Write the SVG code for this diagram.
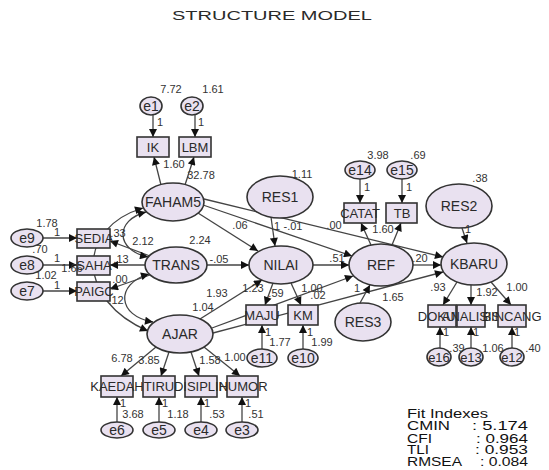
<svg xmlns="http://www.w3.org/2000/svg" width="549" height="470" viewBox="0 0 549 470">
<style>
.lat{fill:#e9e1f0;stroke:#333;stroke-width:1.6}
.obs{fill:#e9e1f0;stroke:#333;stroke-width:1.6}
.c{fill:none;stroke:#444;stroke-width:1.3;marker-end:url(#ah)}
.d{fill:none;stroke:#444;stroke-width:1.3;marker-start:url(#ah);marker-end:url(#ah)}
text{font-family:"Liberation Sans",Arial,sans-serif;fill:#2a2a2a}
.ln{font-size:14px;text-anchor:middle}
.ls{font-size:13px;text-anchor:middle}
.bn{font-size:13px;text-anchor:middle}
.n{font-size:11px;text-anchor:middle;fill:#333}
.f{font-size:13px;fill:#111}
</style>
<defs>
<marker id="ah" viewBox="0 0 10 10" refX="10" refY="5" markerWidth="10" markerHeight="8" markerUnits="userSpaceOnUse" orient="auto-start-reverse">
<path d="M0,0 L10,5 L0,10 z" fill="#111"/>
</marker>
</defs>
<rect width="549" height="470" fill="#fff"/>
<text x="272" y="20" font-size="13" text-anchor="middle" textLength="200" lengthAdjust="spacingAndGlyphs" fill="#333" style="font-family:'Liberation Sans',Arial,sans-serif">STRUCTURE MODEL</text>

<g id="connectors">
<path class="c" d="M153,115 L153,137"/>
<path class="c" d="M195,115 L195,137"/>
<path class="c" d="M161,185 L154,157"/>
<path class="c" d="M185,185 L194,157"/>
<path class="c" d="M360,179 L360,203"/>
<path class="c" d="M402,179 L402,203"/>
<path class="c" d="M371,245 L361,223"/>
<path class="c" d="M392,245 L401,223"/>
<path class="c" d="M43,238 L77,238"/>
<path class="c" d="M43,265 L77,265"/>
<path class="c" d="M43,291 L77,291"/>
<path class="c" d="M150,256 L110,241"/>
<path class="c" d="M145,265 L110,265"/>
<path class="c" d="M150,275 L110,289"/>
<path class="d" d="M146,212 C115,220 115,250 148,257"/>
<path class="d" d="M149,274 C115,284 117,316 153,322"/>
<path class="d" d="M143,208 C76,228 76,300 148,331"/>
<path class="c" d="M198,213 L258,251"/>
<path class="c" d="M203,205 L352,256"/>
<path class="c" d="M204,199 L443,257"/>
<path class="c" d="M207,265 L249,265"/>
<path class="c" d="M271,217 L275,246"/>
<path class="c" d="M200,319 L262,280"/>
<path class="c" d="M212,328 L353,276"/>
<path class="c" d="M213,333 L443,272"/>
<path class="c" d="M313,265 L349,265"/>
<path class="c" d="M413,265 L441,265"/>
<path class="c" d="M462,228 L467,243"/>
<path class="c" d="M360,303 L370,285"/>
<path class="c" d="M273,283 L265,305"/>
<path class="c" d="M291,283 L301,305"/>
<path class="c" d="M262,349 L262,325"/>
<path class="c" d="M303,349 L303,325"/>
<path class="c" d="M156,347 L121,376"/>
<path class="c" d="M169,352 L161,376"/>
<path class="c" d="M191,352 L199,376"/>
<path class="c" d="M204,347 L240,376"/>
<path class="c" d="M117,422 L117,397"/>
<path class="c" d="M159,422 L159,397"/>
<path class="c" d="M201,422 L201,397"/>
<path class="c" d="M242,422 L242,397"/>
<path class="c" d="M457,282 L443,305"/>
<path class="c" d="M471,285 L471,305"/>
<path class="c" d="M491,282 L511,305"/>
<path class="c" d="M440,348 L440,327"/>
<path class="c" d="M471,348 L471,327"/>
<path class="c" d="M512,348 L512,327"/>
</g>

<g id="e1"><ellipse class="lat" cx="151" cy="106" rx="11" ry="9"/><text class="ln" x="151" y="111">e1</text></g>
<g id="e2"><ellipse class="lat" cx="192" cy="106" rx="11" ry="9"/><text class="ln" x="192" y="111">e2</text></g>
<g id="IK"><rect class="obs" x="137" y="137" width="32" height="20"/><text class="bn" x="153" y="152">IK</text></g>
<g id="LBM"><rect class="obs" x="179" y="137" width="32" height="20"/><text class="bn" x="195" y="152">LBM</text></g>
<g id="FAHAM5"><ellipse class="lat" cx="173" cy="202" rx="31" ry="19"/><text class="ln" x="173" y="207">FAHAM5</text></g>
<g id="RES1"><ellipse class="lat" cx="280" cy="197" rx="33" ry="21"/><text class="ln" x="280" y="202">RES1</text></g>
<g id="TRANS"><ellipse class="lat" cx="176" cy="265" rx="31" ry="18"/><text class="ln" x="176" y="270">TRANS</text></g>
<g id="NILAI"><ellipse class="lat" cx="281" cy="265" rx="32" ry="19"/><text class="ln" x="281" y="270">NILAI</text></g>
<g id="AJAR"><ellipse class="lat" cx="180" cy="334" rx="33" ry="19"/><text class="ln" x="180" y="339">AJAR</text></g>
<g id="REF"><ellipse class="lat" cx="381" cy="265" rx="32" ry="21"/><text class="ln" x="381" y="270">REF</text></g>
<g id="KBARU"><ellipse class="lat" cx="474" cy="264" rx="33" ry="21"/><text class="ln" x="474" y="269">KBARU</text></g>
<g id="RES2"><ellipse class="lat" cx="459" cy="206" rx="33" ry="22"/><text class="ln" x="459" y="211">RES2</text></g>
<g id="RES3"><ellipse class="lat" cx="363" cy="322" rx="28" ry="19"/><text class="ln" x="363" y="327">RES3</text></g>
<g id="e14"><ellipse class="lat" cx="360" cy="170" rx="15" ry="9"/><text class="ln" x="360" y="175">e14</text></g>
<g id="e15"><ellipse class="lat" cx="402" cy="170" rx="15" ry="9"/><text class="ln" x="402" y="175">e15</text></g>
<g id="CATAT"><rect class="obs" x="344" y="203" width="32" height="20"/><text class="bn" x="360" y="218">CATAT</text></g>
<g id="TB"><rect class="obs" x="386" y="203" width="31" height="20"/><text class="bn" x="402" y="218">TB</text></g>
<g id="e9"><ellipse class="lat" cx="27" cy="238" rx="16" ry="9"/><text class="ln" x="27" y="243">e9</text></g>
<g id="e8"><ellipse class="lat" cx="27" cy="265" rx="16" ry="9"/><text class="ln" x="27" y="270">e8</text></g>
<g id="e7"><ellipse class="lat" cx="27" cy="291" rx="16" ry="9"/><text class="ln" x="27" y="296">e7</text></g>
<g id="SEDIA"><rect class="obs" x="77" y="229" width="33" height="19"/><text class="bn" x="94" y="243">SEDIA</text></g>
<g id="SAHA"><rect class="obs" x="77" y="256" width="33" height="19"/><text class="bn" x="94" y="270">SAHA</text></g>
<g id="PAIGC"><rect class="obs" x="77" y="282" width="33" height="19"/><text class="bn" x="94" y="296">PAIGC</text></g>
<g id="MAJU"><rect class="obs" x="246" y="305" width="31" height="20"/><text class="bn" x="262" y="320">MAJU</text></g>
<g id="KM"><rect class="obs" x="288" y="305" width="30" height="20"/><text class="bn" x="303" y="320">KM</text></g>
<g id="e11"><ellipse class="lat" cx="262" cy="358" rx="15" ry="9"/><text class="ln" x="262" y="363">e11</text></g>
<g id="e10"><ellipse class="lat" cx="303" cy="358" rx="15" ry="9"/><text class="ln" x="303" y="363">e10</text></g>
<g id="KAEDAH"><rect class="obs" x="101" y="376" width="32" height="21"/><text class="bn" x="117" y="391">KAEDAH</text></g>
<g id="TIRU"><rect class="obs" x="143" y="376" width="32" height="21"/><text class="bn" x="159" y="391">TIRU</text></g>
<g id="DISIPLIN"><rect class="obs" x="185" y="376" width="32" height="21"/><text class="bn" x="201" y="391">DISIPLIN</text></g>
<g id="HUMOR"><rect class="obs" x="227" y="376" width="31" height="21"/><text class="bn" x="243" y="391">HUMOR</text></g>
<g id="e6"><ellipse class="lat" cx="117" cy="430" rx="16" ry="8"/><text class="ln" x="117" y="435">e6</text></g>
<g id="e5"><ellipse class="lat" cx="159" cy="430" rx="16" ry="8"/><text class="ln" x="159" y="435">e5</text></g>
<g id="e4"><ellipse class="lat" cx="201" cy="430" rx="16" ry="8"/><text class="ln" x="201" y="435">e4</text></g>
<g id="e3"><ellipse class="lat" cx="242" cy="430" rx="16" ry="8"/><text class="ln" x="242" y="435">e3</text></g>
<g id="DOKUM"><rect class="obs" x="428" y="305" width="28" height="22"/><text class="bn" x="442" y="321">DOKUM</text></g>
<g id="ANALISIS"><rect class="obs" x="457" y="305" width="28" height="22"/><text class="bn" x="471" y="321">ANALISIS</text></g>
<g id="BINCANG"><rect class="obs" x="498" y="305" width="28" height="22"/><text class="bn" x="512" y="321">BINCANG</text></g>
<g id="e16"><ellipse class="lat" cx="439" cy="357" rx="12" ry="9"/><text class="ls" x="439" y="361.5">e16</text></g>
<g id="e13"><ellipse class="lat" cx="471" cy="357" rx="12" ry="9"/><text class="ls" x="471" y="361.5">e13</text></g>
<g id="e12"><ellipse class="lat" cx="512" cy="357" rx="12" ry="9"/><text class="ls" x="512" y="361.5">e12</text></g>

<g id="estimates">
<text class="n" x="171" y="93">7.72</text>
<text class="n" x="213" y="93">1.61</text>
<text class="n" x="160" y="126">1</text>
<text class="n" x="201" y="126">1</text>
<text class="n" x="174" y="168">1.60</text>
<text class="n" x="201" y="179">32.78</text>
<text class="n" x="302" y="178">1.11</text>
<text class="n" x="378" y="159">3.98</text>
<text class="n" x="418" y="159">.69</text>
<text class="n" x="367" y="191">1</text>
<text class="n" x="409" y="191">1</text>
<text class="n" x="480" y="182">.38</text>
<text class="n" x="383" y="233">1.60</text>
<text class="n" x="334" y="229">.00</text>
<text class="n" x="240" y="229">.06</text>
<text class="n" x="277" y="230">1</text>
<text class="n" x="293" y="230">-.01</text>
<text class="n" x="200" y="244">2.24</text>
<text class="n" x="143" y="245">2.12</text>
<text class="n" x="47" y="227">1.78</text>
<text class="n" x="57" y="236">1</text>
<text class="n" x="118" y="237">.33</text>
<text class="n" x="40" y="253">.70</text>
<text class="n" x="57" y="262">1</text>
<text class="n" x="121" y="263">.13</text>
<text class="n" x="72" y="272">1.66</text>
<text class="n" x="46" y="279">1.02</text>
<text class="n" x="57" y="289">1</text>
<text class="n" x="120" y="283">.00</text>
<text class="n" x="116" y="304">.12</text>
<text class="n" x="219" y="263">-.05</text>
<text class="n" x="337" y="262">.51</text>
<text class="n" x="420" y="262">.20</text>
<text class="n" x="438" y="291">.93</text>
<text class="n" x="487" y="296">1.92</text>
<text class="n" x="517" y="291">1.00</text>
<text class="n" x="446" y="336">1</text>
<text class="n" x="476" y="336">1</text>
<text class="n" x="517" y="336">1</text>
<text class="n" x="457" y="352">.39</text>
<text class="n" x="493" y="352">1.06</text>
<text class="n" x="533" y="352">.40</text>
<text class="n" x="217" y="297">1.93</text>
<text class="n" x="253" y="292">1.23</text>
<text class="n" x="276" y="297">.59</text>
<text class="n" x="312" y="292">1.00</text>
<text class="n" x="318" y="299">.02</text>
<text class="n" x="203" y="311">1.04</text>
<text class="n" x="393" y="301">1.65</text>
<text class="n" x="357" y="292">1</text>
<text class="n" x="468" y="233">1</text>
<text class="n" x="268" y="336">1</text>
<text class="n" x="310" y="336">1</text>
<text class="n" x="280" y="346">1.77</text>
<text class="n" x="322" y="346">1.99</text>
<text class="n" x="122" y="362">6.78</text>
<text class="n" x="149" y="364">3.85</text>
<text class="n" x="210" y="364">1.58</text>
<text class="n" x="235" y="361">1.00</text>
<text class="n" x="123" y="407">1</text>
<text class="n" x="165" y="407">1</text>
<text class="n" x="207" y="407">1</text>
<text class="n" x="248" y="407">1</text>
<text class="n" x="133" y="418">3.68</text>
<text class="n" x="178" y="418">1.18</text>
<text class="n" x="217" y="418">.53</text>
<text class="n" x="256" y="418">.51</text>
</g>

<g id="fit-indexes">
<text class="f" x="407" y="418" textLength="81" lengthAdjust="spacingAndGlyphs">Fit Indexes</text>
<text class="f" x="407" y="430" textLength="43" lengthAdjust="spacingAndGlyphs">CMIN</text>
<text class="f" x="528" y="430" text-anchor="end" textLength="56" lengthAdjust="spacingAndGlyphs">: 5.174</text>
<text class="f" x="407" y="443" textLength="25" lengthAdjust="spacingAndGlyphs">CFI</text>
<text class="f" x="528" y="443" text-anchor="end" textLength="52" lengthAdjust="spacingAndGlyphs">: 0.964</text>
<text class="f" x="407" y="454" textLength="22" lengthAdjust="spacingAndGlyphs">TLI</text>
<text class="f" x="528" y="454" text-anchor="end" textLength="53" lengthAdjust="spacingAndGlyphs">: 0.953</text>
<text class="f" x="407" y="466" textLength="55" lengthAdjust="spacingAndGlyphs">RMSEA</text>
<text class="f" x="528" y="466" text-anchor="end" textLength="48" lengthAdjust="spacingAndGlyphs">: 0.084</text>
</g>
</svg>
